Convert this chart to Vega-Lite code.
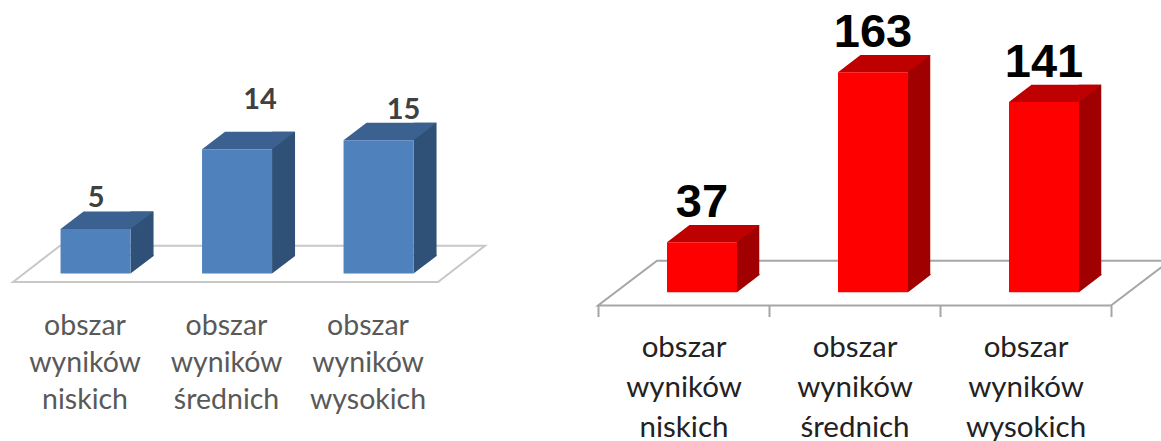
{"$schema":"https://vega.github.io/schema/vega-lite/v6.json","width":1161,"height":441,"padding":0,"autosize":{"type":"none"},"background":"white","view":{"stroke":null},
"datasets":{"lewy":[{"obszar":"obszar wyników niskich","liczba":5},{"obszar":"obszar wyników średnich","liczba":14},{"obszar":"obszar wyników wysokich","liczba":15}],"prawy":[{"obszar":"obszar wyników niskich","liczba":37},{"obszar":"obszar wyników średnich","liczba":163},{"obszar":"obszar wyników wysokich","liczba":141}]},
"resolve":{"scale":{"x":"independent","y":"independent"},"axis":{"x":"independent","y":"independent"}},
"layer":[
{"data":{"name":"lewy"},
"encoding":{"x":{"field":"obszar","type":"nominal","sort":null,"scale":{"domain":["obszar wyników niskich","obszar wyników średnich","obszar wyników wysokich"],"range":[14.3,438.8],"paddingInner":0,"paddingOuter":0},"axis":{"orient":"bottom","title":null,"domain":false,"ticks":false,"labelAngle":0,"labelExpr":"split(datum.label,' ')","labelFont":"Lato","labelFontSize":28.5,"labelColor":"#595959","labelLineHeight":37,"labelPadding":29,"labelBaseline":"top","labelLimit":300,"grid":false,"offset":-159}},
"y":{"field":"liczba","type":"quantitative","scale":{"domain":[0,20],"range":[273.4,96]},"axis":null}},
"layer":[
{"transform":[{"filter":"datum.liczba===5"}],"mark":{"type":"point","shape":"M-72,8.6L353,8.6L400,-27.7L-25,-27.7Z","size":4,"filled":false,"stroke":"#c8c8c8","strokeWidth":2,"opacity":1},"encoding":{"y":{"datum":0}}},
{"mark":{"type":"bar","width":23,"xOffset":57,"yOffset":-17.5,"color":"#2f5177"}},
{"mark":{"type":"point","shape":"M45.5,0L45.5,-18.5L68.5,-18.5L68.5,-17.5Z","size":4,"filled":true,"color":"#2f5177","opacity":1,"strokeWidth":0},"encoding":{"y":{"datum":0}}},
{"mark":{"type":"point","shape":"M-24.5,0L45.5,0L68.5,-17.5L-1.5,-17.5Z","size":4,"filled":true,"color":"#3a6190","opacity":1,"strokeWidth":0}},
{"mark":{"type":"bar","width":70,"xOffset":10.5,"color":"#4f81bd"}},
{"transform":[{"filter":"datum.liczba===5"}],"mark":{"type":"text","font":"Lato","fontWeight":"bold","fontSize":29,"color":"#404040","baseline":"middle","dx":11,"dy":-31},"encoding":{"text":{"field":"liczba","type":"quantitative"}}},
{"transform":[{"filter":"datum.liczba===14"}],"mark":{"type":"text","font":"Lato","fontWeight":"bold","fontSize":29,"color":"#404040","baseline":"middle","dx":33.5,"dy":-49.4},"encoding":{"text":{"field":"liczba","type":"quantitative"}}},
{"transform":[{"filter":"datum.liczba===15"}],"mark":{"type":"text","font":"Lato","fontWeight":"bold","fontSize":29,"color":"#404040","baseline":"middle","dx":35.5,"dy":-30.4},"encoding":{"text":{"field":"liczba","type":"quantitative"}}}
]},
{"data":{"name":"prawy"},
"encoding":{"x":{"field":"obszar","type":"nominal","sort":null,"scale":{"domain":["obszar wyników niskich","obszar wyników średnich","obszar wyników wysokich"],"range":[598,1111],"paddingInner":0,"paddingOuter":0},"axis":{"orient":"bottom","title":null,"domain":false,"ticks":true,"tickBand":"extent","tickSize":11,"tickColor":"#a6a6a6","tickWidth":2,"labelAngle":0,"labelExpr":"split(datum.label,' ')","labelFont":"Lato","labelFontSize":29.5,"labelColor":"#222222","labelLineHeight":40,"labelPadding":17,"labelBaseline":"top","labelLimit":300,"grid":false,"offset":-135.5}},
"y":{"field":"liczba","type":"quantitative","scale":{"domain":[0,200],"range":[292.3,22.3]},"axis":null}},
"layer":[
{"transform":[{"filter":"datum.liczba===37"}],"mark":{"type":"point","shape":"M-85.5,13.2L427.5,13.2L486.5,-31.6L-26.5,-31.6Z","size":4,"filled":false,"stroke":"#a6a6a6","strokeWidth":2,"opacity":1},"encoding":{"y":{"datum":0}}},
{"mark":{"type":"bar","width":22.5,"xOffset":64.5,"yOffset":-17.3,"color":"#a00000"}},
{"mark":{"type":"point","shape":"M53.5,0L53.5,-18.3L76,-18.3L76,-17.3Z","size":4,"filled":true,"color":"#a00000","opacity":1,"strokeWidth":0},"encoding":{"y":{"datum":0}}},
{"mark":{"type":"point","shape":"M-16.5,0L53.5,0L76,-17.3L6,-17.3Z","size":4,"filled":true,"color":"#bf0000","opacity":1,"strokeWidth":0}},
{"mark":{"type":"bar","width":70,"xOffset":18.5,"color":"#ff0000"}},
{"mark":{"type":"text","font":"Liberation Sans","fontWeight":"bold","fontSize":47,"color":"#000000","baseline":"middle","dx":18.5,"dy":-39},"encoding":{"text":{"field":"liczba","type":"quantitative"}}}
]}
]}
